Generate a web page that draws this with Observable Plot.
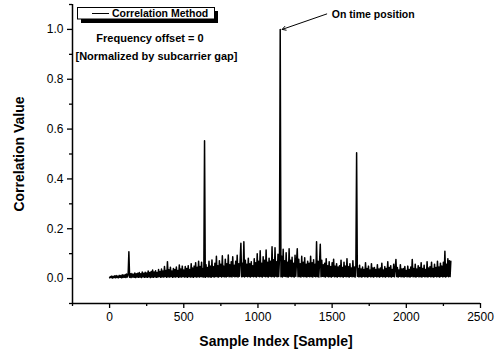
<!DOCTYPE html>
<html>
<head>
<meta charset="utf-8">
<script src="https://cdn.jsdelivr.net/npm/d3@7"></script>
<script src="https://cdn.jsdelivr.net/npm/@observablehq/plot@0.6"></script>
<style>
  html, body { margin: 0; padding: 0; background: #fff; }
  #chart { width: 500px; height: 355px; position: relative; }
</style>
</head>
<body>
<div id="chart"></div>
<script>
// ---- data ----
const sampleStep = 5; // samples between successive read values
const correlation = [
  0.003, 0.008, 0.004, 0.010, 0.002, 0.009, 0.004, 0.011, 0.003, 0.012,
  0.004, 0.010, 0.003, 0.013, 0.005, 0.012, 0.003, 0.015, 0.004, 0.014,
  0.005, 0.016, 0.004, 0.018, 0.006, 0.015, 0.108, 0.005, 0.019, 0.004,
  0.020, 0.006, 0.017, 0.005, 0.022, 0.004, 0.019, 0.006, 0.021, 0.005,
  0.024, 0.006, 0.019, 0.004, 0.026, 0.007, 0.021, 0.005, 0.025, 0.006,
  0.022, 0.005, 0.030, 0.007, 0.024, 0.004, 0.028, 0.006, 0.034, 0.005,
  0.026, 0.007, 0.031, 0.005, 0.024, 0.006, 0.036, 0.008, 0.028, 0.005,
  0.038, 0.007, 0.030, 0.006, 0.048, 0.008, 0.032, 0.005, 0.068, 0.007,
  0.035, 0.006, 0.045, 0.008, 0.030, 0.005, 0.040, 0.007, 0.036, 0.006,
  0.046, 0.008, 0.032, 0.005, 0.055, 0.007, 0.038, 0.006, 0.050, 0.008,
  0.034, 0.006, 0.048, 0.007, 0.040, 0.005, 0.052, 0.008, 0.036, 0.006,
  0.060, 0.007, 0.042, 0.005, 0.050, 0.008, 0.064, 0.006, 0.045, 0.007,
  0.070, 0.006, 0.048, 0.008, 0.066, 0.007, 0.040, 0.006, 0.553, 0.005,
  0.056, 0.008, 0.044, 0.006, 0.070, 0.007, 0.050, 0.005, 0.075, 0.008,
  0.048, 0.006, 0.062, 0.008, 0.090, 0.007, 0.052, 0.006, 0.072, 0.009,
  0.058, 0.006, 0.092, 0.008, 0.050, 0.007, 0.078, 0.006, 0.060, 0.009,
  0.095, 0.007, 0.056, 0.008, 0.068, 0.006, 0.088, 0.009, 0.054, 0.007,
  0.070, 0.008, 0.094, 0.006, 0.060, 0.009, 0.076, 0.142, 0.007, 0.062,
  0.008, 0.148, 0.006, 0.074, 0.009, 0.058, 0.007, 0.082, 0.008, 0.060,
  0.006, 0.068, 0.009, 0.052, 0.007, 0.080, 0.008, 0.064, 0.006, 0.100,
  0.009, 0.070, 0.007, 0.112, 0.008, 0.062, 0.006, 0.088, 0.009, 0.074,
  0.007, 0.115, 0.008, 0.066, 0.006, 0.082, 0.009, 0.070, 0.007, 0.128,
  0.008, 0.076, 0.006, 0.124, 0.009, 0.068, 0.007, 0.098, 0.008, 0.080,
  1.000, 0.007, 0.090, 0.006, 0.118, 0.009, 0.072, 0.008, 0.104, 0.007,
  0.066, 0.006, 0.120, 0.009, 0.074, 0.007, 0.086, 0.008, 0.062, 0.006,
  0.094, 0.009, 0.070, 0.120, 0.007, 0.078, 0.008, 0.060, 0.006, 0.090,
  0.009, 0.066, 0.007, 0.084, 0.008, 0.058, 0.006, 0.070, 0.009, 0.062,
  0.007, 0.090, 0.008, 0.064, 0.006, 0.076, 0.009, 0.058, 0.007, 0.148,
  0.008, 0.070, 0.006, 0.062, 0.138, 0.007, 0.074, 0.009, 0.056, 0.008,
  0.062, 0.006, 0.080, 0.009, 0.052, 0.007, 0.068, 0.008, 0.048, 0.006,
  0.064, 0.009, 0.078, 0.007, 0.050, 0.008, 0.060, 0.006, 0.046, 0.009,
  0.052, 0.007, 0.074, 0.008, 0.044, 0.006, 0.066, 0.009, 0.050, 0.007,
  0.080, 0.008, 0.048, 0.006, 0.060, 0.009, 0.042, 0.007, 0.072, 0.008,
  0.046, 0.006, 0.054, 0.505, 0.009, 0.040, 0.007, 0.054, 0.008, 0.038,
  0.006, 0.046, 0.009, 0.036, 0.007, 0.064, 0.008, 0.040, 0.006, 0.050,
  0.009, 0.034, 0.007, 0.060, 0.008, 0.042, 0.006, 0.044, 0.009, 0.036,
  0.007, 0.056, 0.008, 0.038, 0.006, 0.042, 0.009, 0.062, 0.007, 0.034,
  0.008, 0.048, 0.006, 0.040, 0.009, 0.068, 0.007, 0.044, 0.008, 0.052,
  0.006, 0.036, 0.009, 0.058, 0.007, 0.040, 0.077, 0.008, 0.044, 0.006,
  0.034, 0.009, 0.056, 0.007, 0.038, 0.008, 0.040, 0.006, 0.048, 0.009,
  0.032, 0.007, 0.050, 0.008, 0.036, 0.006, 0.046, 0.009, 0.077, 0.007,
  0.040, 0.008, 0.058, 0.006, 0.038, 0.009, 0.052, 0.007, 0.044, 0.008,
  0.064, 0.006, 0.040, 0.009, 0.054, 0.007, 0.036, 0.008, 0.068, 0.006,
  0.042, 0.009, 0.048, 0.007, 0.066, 0.008, 0.040, 0.006, 0.058, 0.009,
  0.044, 0.007, 0.070, 0.008, 0.046, 0.006, 0.062, 0.009, 0.050, 0.007,
  0.066, 0.008, 0.110, 0.006, 0.058, 0.009, 0.080, 0.007, 0.072, 0.008,
  0.070
];
const xTicks = [0, 500, 1000, 1500, 2000, 2500];
const xMinorTicks = [-250, 250, 750, 1250, 1750, 2250];
const yTicks = [0.0, 0.2, 0.4, 0.6, 0.8, 1.0];
const yMinorTicks = [-0.1, 0.1, 0.3, 0.5, 0.7, 0.9, 1.1];
const seriesName = "Correlation Method";
const xLabel = "Sample Index [Sample]";
const yLabel = "Correlation Value";
const noteLines = ["Frequency offset = 0", "[Normalized by subcarrier gap]"];
const peakNote = "On time position";

// ---- build table ----
const series = correlation.map((v, i) => ({sample: i * sampleStep, value: v}));
const peak = series.reduce((a, b) => (b.value > a.value ? b : a));

const font = "'Liberation Sans', Arial, sans-serif";

const plot = Plot.plot({
  width: 500,
  height: 355,
  marginLeft: 72,
  marginRight: 20,
  marginTop: 4,
  marginBottom: 52,
  style: {fontFamily: font, fontSize: "12px", color: "#000", background: "#fff", overflow: "visible"},
  x: {domain: [-250, 2500], label: null},
  y: {domain: [-0.1, 1.1], label: null},
  marks: [
    Plot.line(series, {x: "sample", y: "value", stroke: "#000", strokeWidth: 1.5}),
    Plot.ruleX([-250], {stroke: "#000", strokeWidth: 1.5}),
    Plot.ruleY([-0.1], {stroke: "#000", strokeWidth: 1.5}),
    Plot.axisX(xTicks, {tickSize: 5, tickPadding: 4, strokeWidth: 1.3, fontSize: 12, tickFormat: d3.format("d"), label: null}),
    Plot.axisX(xMinorTicks, {tickSize: 3, strokeWidth: 1.3, tickFormat: () => "", label: null}),
    Plot.axisY(yTicks, {tickSize: 5, tickPadding: 4, strokeWidth: 1.3, fontSize: 12, tickFormat: d3.format(".1f"), label: null}),
    Plot.axisY(yMinorTicks, {tickSize: 3, strokeWidth: 1.3, tickFormat: () => "", label: null}),
    Plot.arrow([peak], {
      x1: () => 1450, y1: () => 1.062,
      x2: "sample", y2: "value",
      insetEnd: 0, dx: 2,
      headLength: 6, stroke: "#000", strokeWidth: 1
    }),
    Plot.text([peakNote], {x: 1498, y: 1.058, text: d => d, textAnchor: "start", fontWeight: "bold", fontSize: 10.5, fill: "#000"})
  ]
});

document.getElementById("chart").appendChild(plot);

// ---- annotations: legend, notes, axis titles ----
const svg = d3.select(plot);
const g = svg.append("g").attr("font-family", font).attr("fill", "#000").attr("text-anchor", "start");

// legend with drop shadow
g.append("rect").attr("x", 81).attr("y", 11).attr("width", 137).attr("height", 12).attr("fill", "#000");
g.append("rect").attr("x", 77.5).attr("y", 7.5).attr("width", 137).attr("height", 11.5)
  .attr("fill", "#fff").attr("stroke", "#000").attr("stroke-width", 1);
g.append("line").attr("x1", 92).attr("x2", 109).attr("y1", 13.5).attr("y2", 13.5)
  .attr("stroke", "#000").attr("stroke-width", 1);
g.append("text").attr("x", 112).attr("y", 13.5).attr("dy", "0.35em").attr("text-anchor", "start")
  .attr("font-size", 10.5).attr("font-weight", 700).text(seriesName);

// notes
g.append("text").attr("x", 150).attr("y", 38).attr("dy", "0.35em").attr("text-anchor", "middle")
  .attr("font-size", 11).attr("font-weight", "bold").text(noteLines[0]);
g.append("text").attr("x", 156.5).attr("y", 56).attr("dy", "0.35em").attr("text-anchor", "middle")
  .attr("font-size", 11).attr("font-weight", "bold").text(noteLines[1]);

// axis titles
g.append("text").attr("x", 276).attr("y", 341).attr("dy", "0.35em").attr("text-anchor", "middle")
  .attr("font-size", 14).attr("font-weight", "bold").text(xLabel);
g.append("text").attr("transform", "translate(19,154) rotate(-90)").attr("dy", "0.35em").attr("text-anchor", "middle")
  .attr("font-size", 14).attr("font-weight", "bold").text(yLabel);
</script>
</body>
</html>
